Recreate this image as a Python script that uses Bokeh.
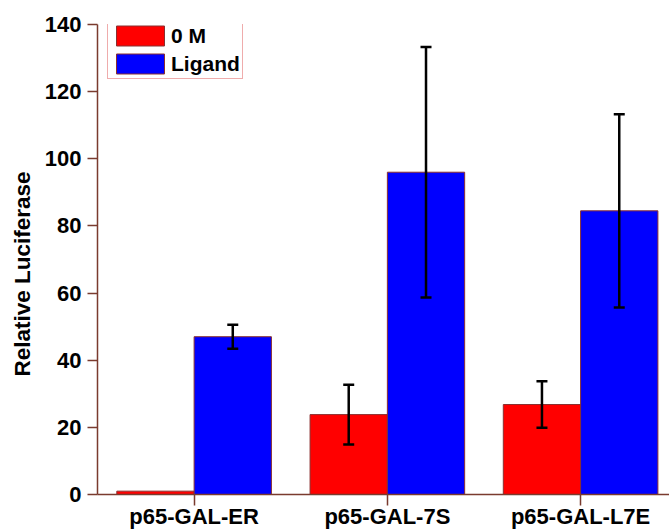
from bokeh.plotting import figure
from bokeh.models import Range1d, FixedTicker, ColumnDataSource, Whisker, TeeHead, Title
from bokeh.embed import file_html
from bokeh.resources import INLINE

categories = ["p65-GAL-ER", "p65-GAL-7S", "p65-GAL-L7E"]
series_names = ["0 M", "Ligand"]
control = [1.0, 23.8, 26.8]
control_err = [0.0, 8.9, 6.9]
ligand = [47.0, 96.0, 84.5]
ligand_err = [3.6, 37.3, 28.8]
y_ticks = [0, 20, 40, 60, 80, 100, 120, 140]

FONT = "Liberation Sans"
AXIS_COLOR = "#7a3b2e"
BAR_LINE = "#8a3030"

idx = list(range(len(categories)))
x_ctrl = [i - 0.2 for i in idx]
x_lig = [i + 0.2 for i in idx]

p = figure(width=669, height=531, output_backend="svg", toolbar_location=None,
           x_range=Range1d(-0.5, 2.46), y_range=Range1d(0, 140),
           min_border_left=97, min_border_right=0, min_border_top=24, min_border_bottom=30)
p.outline_line_color = None
p.grid.visible = False
p.background_fill_color = "white"

p.vbar(x=x_ctrl, top=control, width=0.4, fill_color="#ff0000", line_color=BAR_LINE,
       line_width=1, legend_label=series_names[0])
p.vbar(x=x_lig, top=ligand, width=0.4, fill_color="#0000ff", line_color=BAR_LINE,
       line_width=1, legend_label=series_names[1])

ex, eu, el = [], [], []
for xs, vals, errs in ((x_ctrl, control, control_err), (x_lig, ligand, ligand_err)):
    for x, v, e in zip(xs, vals, errs):
        if e > 0:
            ex.append(x); eu.append(v + e); el.append(v - e)
esrc = ColumnDataSource(dict(x=ex, upper=eu, lower=el))
w = Whisker(base="x", upper="upper", lower="lower", source=esrc, level="annotation",
            line_color="black", line_width=2.5,
            upper_head=TeeHead(size=11, line_width=2.5, line_color="black"),
            lower_head=TeeHead(size=11, line_width=2.5, line_color="black"))
p.add_layout(w)

# axes
p.xaxis.ticker = FixedTicker(ticks=idx)
p.xaxis.major_label_overrides = {i: c for i, c in zip(idx, categories)}
p.yaxis.ticker = FixedTicker(ticks=y_ticks)
for ax in (p.xaxis, p.yaxis):
    ax.axis_line_color = AXIS_COLOR
    ax.axis_line_width = 1.5
    ax.major_tick_line_color = AXIS_COLOR
    ax.major_tick_line_width = 1.5
    ax.major_tick_in = 0
    ax.minor_tick_line_color = None
    ax.major_label_text_font = FONT
    ax.major_label_text_font_style = "bold"
    ax.major_label_text_font_size = "22px"
    ax.major_label_text_color = "black"
p.xaxis.major_tick_out = 11
p.xaxis.major_label_standoff = -2
p.yaxis.major_tick_out = 10
p.yaxis.major_label_standoff = 6

ytitle = Title(text="Relative Luciferase", align="left", offset=118, standoff=14,
               text_font=FONT, text_font_style="bold", text_font_size="22.5px",
               text_color="black")
p.add_layout(ytitle, "left")

lg = p.legend[0]
lg.location = (10, 415)
lg.margin = 0
lg.padding = 2
lg.spacing = 3
lg.glyph_width = 60
lg.glyph_height = 25
lg.label_height = 25
lg.label_standoff = 1
lg.label_text_font = FONT
lg.label_text_font_style = "bold"
lg.label_text_font_size = "21px"
lg.label_text_color = "black"
lg.border_line_color = "#e05a5a"
lg.border_line_width = 1
lg.background_fill_alpha = 1

open("out.html", "w").write(file_html(p, INLINE))
